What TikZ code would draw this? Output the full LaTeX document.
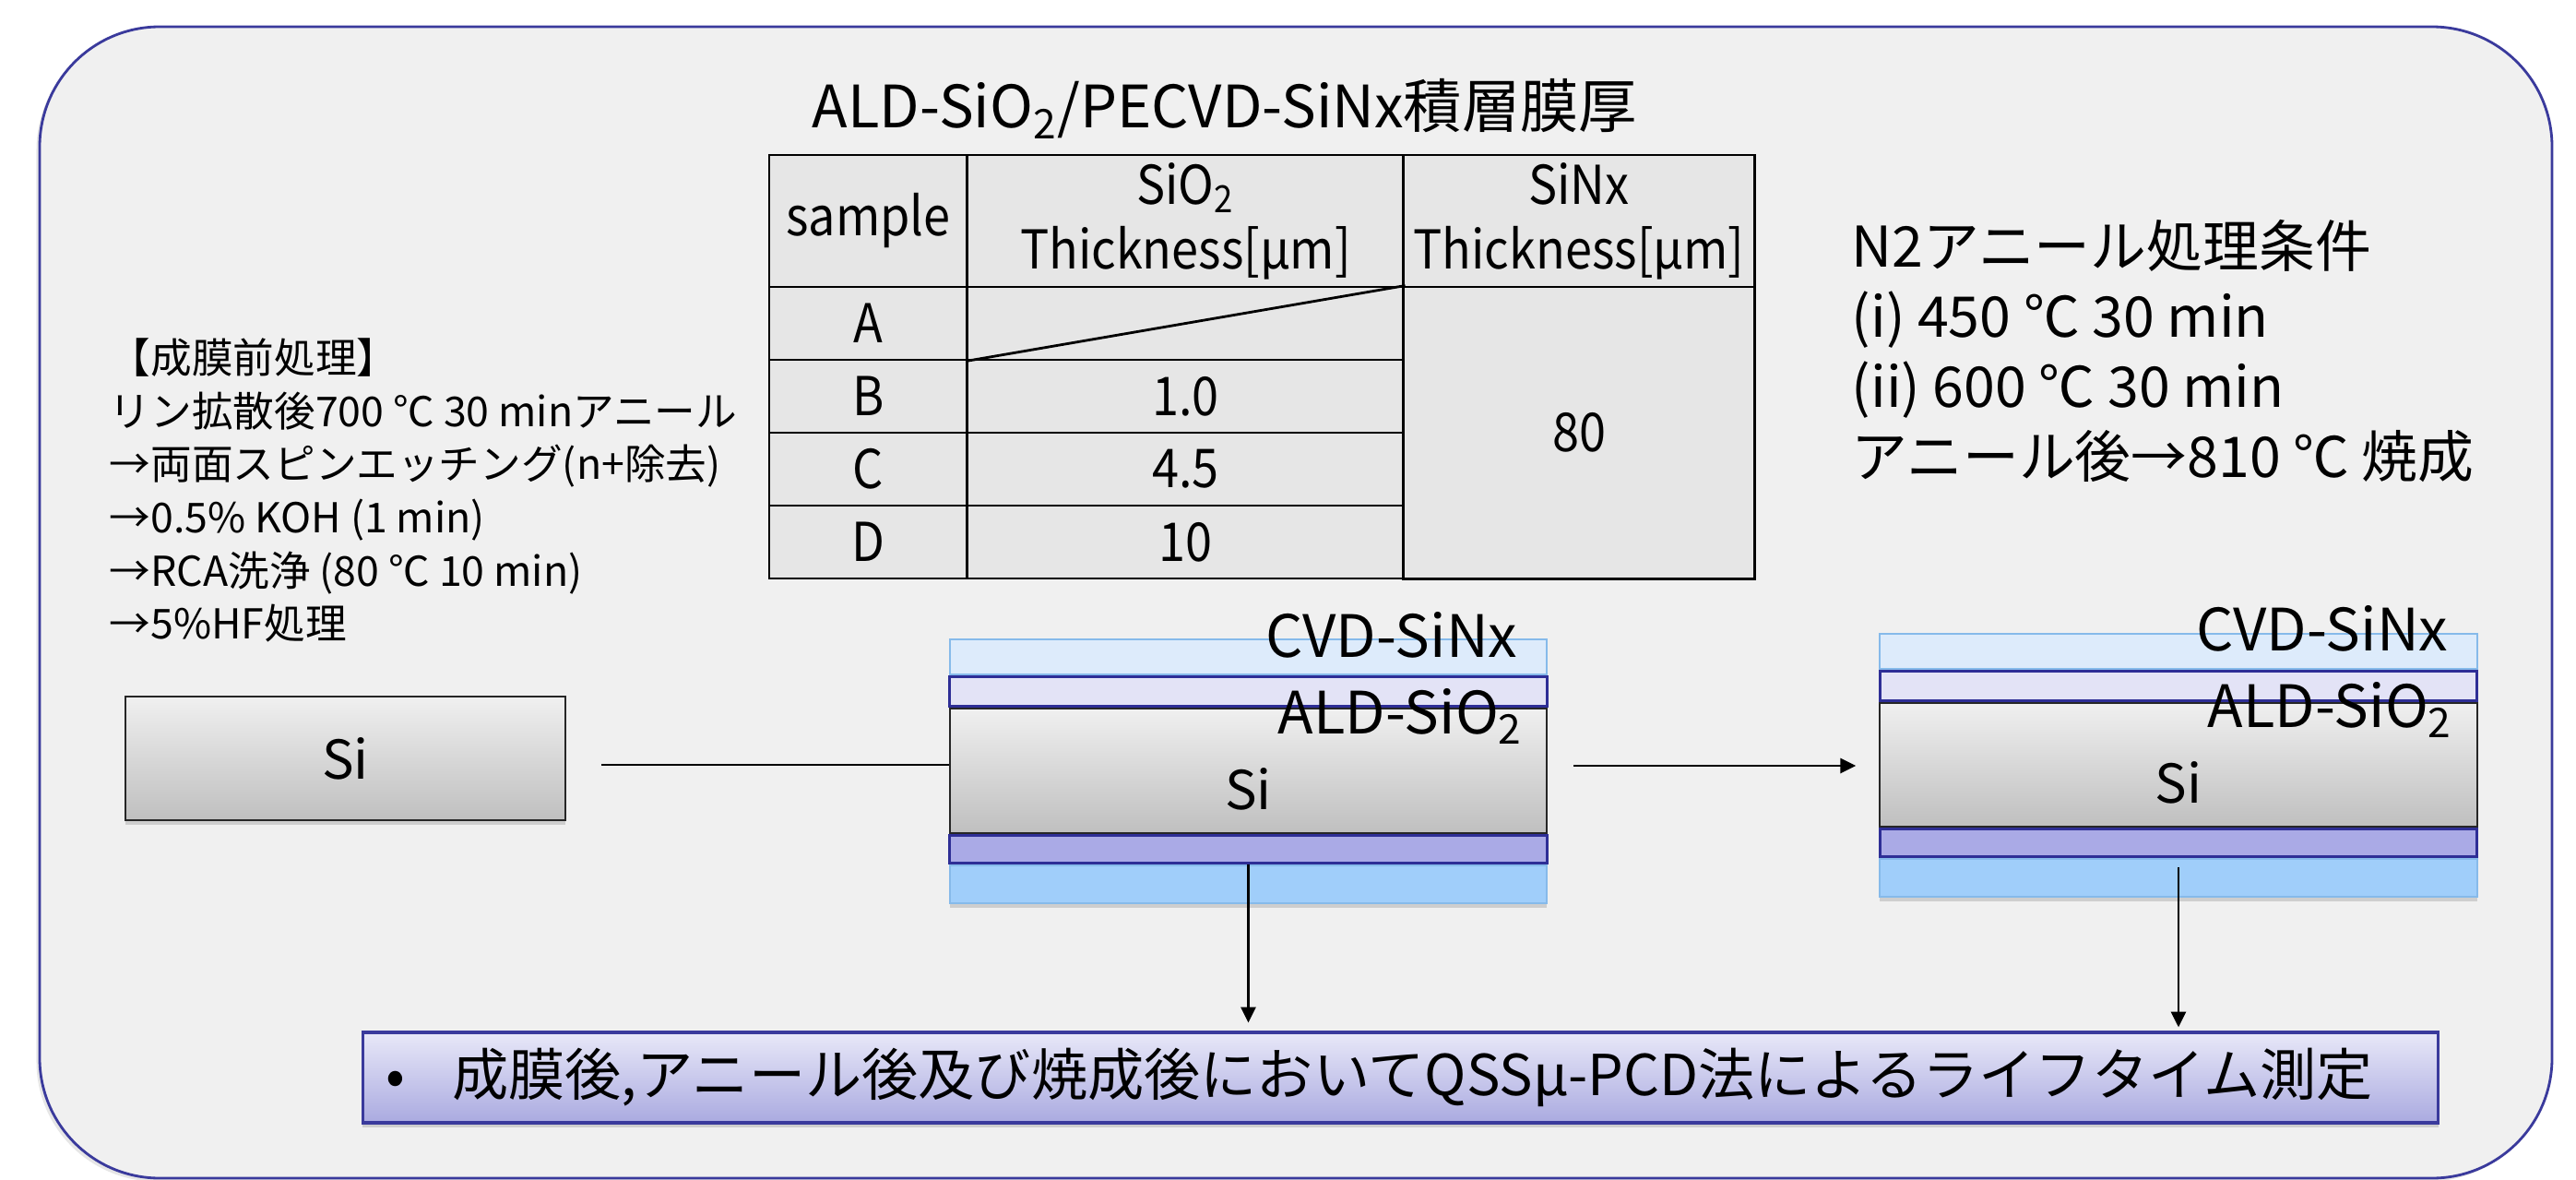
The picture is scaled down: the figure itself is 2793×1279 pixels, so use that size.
\documentclass[tikz,border=0pt]{standalone}
\usepackage{fontspec}
\setmainfont{Noto Sans CJK JP}
\newfontfamily\narrowjp[FakeStretch=0.9]{Noto Sans CJK JP}
\usepackage{tikz}
\usetikzlibrary{positioning,arrows.meta,shadows}

\definecolor{framecol}{HTML}{3A3A9C}
\definecolor{panel}{HTML}{F0F0F0}
\definecolor{cellgray}{HTML}{E6E6E6}
\definecolor{nitlight}{HTML}{DDEBFB}
\definecolor{nitdark}{HTML}{A0CEFA}
\definecolor{nitline}{HTML}{86BAEA}
\definecolor{oxlight}{HTML}{E3E3F6}
\definecolor{oxdark}{HTML}{AAAAE6}
\definecolor{oxline}{HTML}{2E2E96}
\definecolor{meastop}{HTML}{E8E8F8}
\definecolor{measbot}{HTML}{AAAAE0}

\begin{document}
\begin{tikzpicture}[x=0.01cm,y=-0.01cm]
	\tikzstyle{panelframe} = [draw=framecol, fill=panel, line width=0.8pt, rounded corners=1.3cm]
	\tikzstyle{tabcell} = [draw=black, fill=cellgray, line width=0.8pt, inner sep=0pt, align=center, font=\narrowjp\fontsize{16.5}{20}\selectfont]
	\tikzstyle{lbl} = [inner sep=0pt, font=\fontsize{18}{20}\selectfont]
	\tikzstyle{wafer} = [draw=black!85, top color=gray!12, bottom color=gray!50, line width=0.6pt, inner sep=0pt, minimum width=6.47cm, minimum height=1.35cm, font=\fontsize{16.5}{20}\selectfont, drop shadow={opacity=0.3, shadow xshift=0pt, shadow yshift=-1.5pt}]
	\tikzstyle{nittop} = [draw=nitline, fill=nitlight, line width=0.6pt, inner sep=0pt, minimum width=6.47cm, minimum height=0.38cm]
	\tikzstyle{oxtop} = [draw=oxline, fill=oxlight, line width=0.8pt, inner sep=0pt, minimum width=6.47cm, minimum height=0.32cm]
	\tikzstyle{oxbot} = [draw=oxline, fill=oxdark, line width=0.8pt, inner sep=0pt, minimum width=6.47cm, minimum height=0.30cm, drop shadow={opacity=0.35, shadow xshift=0pt, shadow yshift=-1.5pt}]
	\tikzstyle{nitbot} = [draw=nitline, fill=nitdark, line width=0.6pt, inner sep=0pt, minimum width=6.47cm, minimum height=0.41cm, drop shadow={opacity=0.3, shadow xshift=0pt, shadow yshift=-1.5pt}]
	\tikzstyle{meas} = [draw=framecol, line width=0.9pt, top color=meastop, bottom color=measbot, text width=21.99cm, inner xsep=0.25cm, minimum height=0.98cm, align=left, font=\fontsize{17.4}{20}\selectfont, drop shadow={opacity=0.3, shadow xshift=0pt, shadow yshift=-1.5pt}]
	\tikzstyle{flow} = [line width=0.7pt, -{Triangle[length=4.8pt, width=4.6pt]}]

	\useasboundingbox (0,0) rectangle (2793,1279);
	\draw[panelframe, drop shadow={opacity=0.2, shadow xshift=-1pt, shadow yshift=-1pt}] (43,29) rectangle (2767,1277);

	\node[lbl, anchor=base] (title) at (1328,139) {ALD-SiO\textsubscript{2}/PECVD-SiNx積層膜厚};

	\node[tabcell, minimum width=2.15cm, minimum height=1.43cm] (hSample) at (941.5,239.5) {sample};
	\node[tabcell, minimum width=4.73cm, minimum height=1.43cm] (hOx) at (1285.5,239.5) {SiO\textsubscript{2}\\Thickness[μm]};
	\node[tabcell, minimum width=3.80cm, minimum height=1.43cm] (hNit) at (1712,239.5) {SiNx\\Thickness[μm]};
	\foreach \s/\t [count=\i] in {A/,B/1.0,C/4.5,D/10}{
		\node[tabcell, minimum width=2.15cm, minimum height=0.79cm] (s\s) at (941.5,271.5+79*\i) {\s};
		\node[tabcell, minimum width=4.73cm, minimum height=0.79cm] (t\s) at (1285.5,271.5+79*\i) {\t};
	}
	\node[tabcell, minimum width=3.80cm, minimum height=3.16cm] (tNit) at (1712,469) {80};
	\draw[line width=0.8pt] (tA.south west) -- (tA.north east);

	\node[anchor=north west, align=left, inner sep=0pt, font=\fontsize{12.7}{16.4}\selectfont] (pretreat) at (118,366) {【成膜前処理】\\
		リン拡散後700 ℃ 30 minアニール\\
		→両面スピンエッチング(n+除去)\\
		→0.5\% KOH (1 min)\\
		→RCA洗浄 (80 ℃ 10 min)\\
		→5\%HF処理};

	\node[anchor=north west, align=left, inner sep=0pt, font=\fontsize{17.3}{21.6}\selectfont] (anneal) at (2007,238) {N2アニール処理条件\\
		(i) 450 ℃ 30 min\\
		(ii) 600 ℃ 30 min\\
		アニール後→810 ℃ 焼成};

	\node[wafer, minimum width=4.77cm, minimum height=1.34cm] (siBare) at (374.5,822) {Si};

	\node[wafer, text height=24pt] (siA) at (1353.5,835.5) {Si};
	\node[oxtop, above=0pt of siA] (oxTopA) {};
	\node[nittop, above=0pt of oxTopA] (nitTopA) {};
	\node[oxbot, below=0pt of siA] (oxBotA) {};
	\node[nitbot, below=0pt of oxBotA] (nitBotA) {};
	\node[lbl, anchor=base east] (cvdA) at (1646,712) {CVD-SiNx};
	\node[lbl, anchor=base east] (aldA) at (1652,795) {ALD-SiO\textsubscript{2}};

	\node[wafer, minimum height=1.34cm, text height=24pt] (siB) at (2362,829) {Si};
	\node[oxtop, above=0pt of siB] (oxTopB) {};
	\node[nittop, above=0pt of oxTopB] (nitTopB) {};
	\node[oxbot, below=0pt of siB] (oxBotB) {};
	\node[nitbot, below=0pt of oxBotB] (nitBotB) {};
	\node[lbl, anchor=base east] (cvdB) at (2655,705) {CVD-SiNx};
	\node[lbl, anchor=base east] (aldB) at (2660,788) {ALD-SiO\textsubscript{2}};

	\node[meas] (meas) at (1518.5,1168) {\makebox[0.72cm][l]{•}成膜後,アニール後及び焼成後においてQSSμ-PCD法によるライフタイム測定};

	\coordinate (p0) at (652,829);
	\draw[line width=0.7pt] (p0) -- (p0 -| siA.west);
	\coordinate (p1) at (1706,830);
	\draw[flow, shorten >=0.25cm] (p1) -- (p1 -| siB.west);
	\draw[flow, shorten >=0.09cm] (oxBotA.south) -- (oxBotA.south |- meas.north);
	\draw[flow, shorten >=0.04cm] ([yshift=-0.1cm]oxBotB.south) -- (oxBotB.south |- meas.north);
\end{tikzpicture}
\end{document}
